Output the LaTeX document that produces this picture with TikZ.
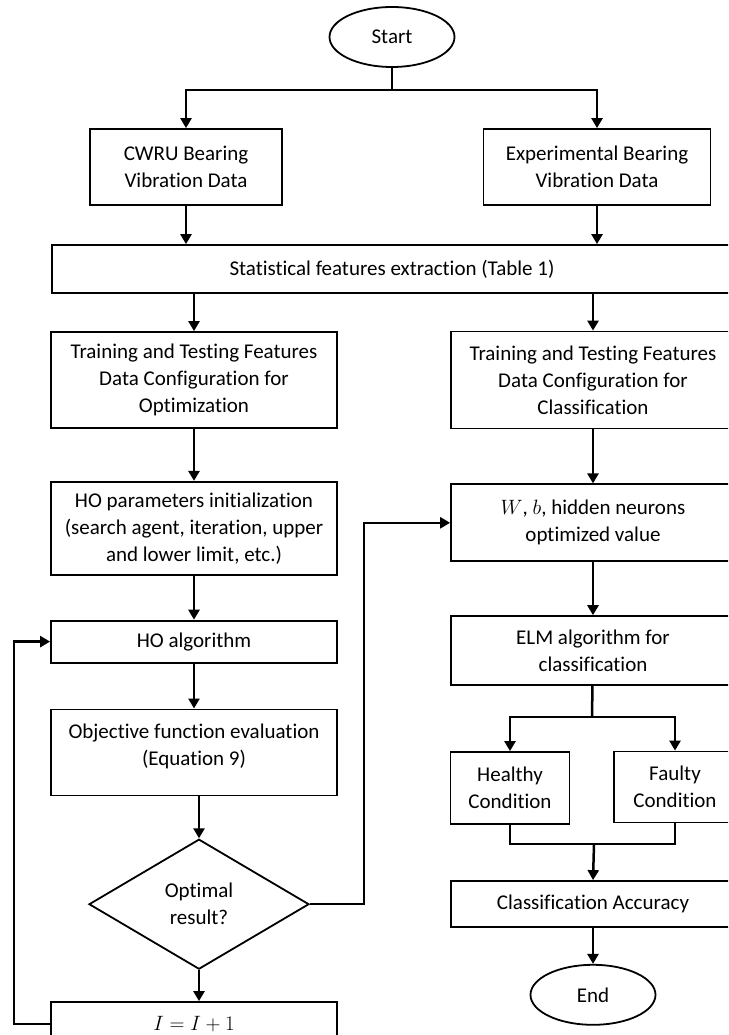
\documentclass[tikz,border=0pt]{standalone}
\usepackage{amsmath}
\usepackage{fontspec}
\setmainfont{Carlito}[Ligatures=NoCommon]
\usetikzlibrary{positioning,shapes.geometric,arrows.meta}

\begin{document}
\begin{tikzpicture}[x=1pt,y=-1pt,
        every node/.style={font=\fontsize{21}{27}\selectfont, align=center},
        box/.style={draw, line width=1.8pt, rectangle, inner sep=2pt},
        term/.style={draw, line width=1.8pt, ellipse, minimum width=125pt, minimum height=60pt},
        decision/.style={draw, line width=1.8pt, diamond, aspect=1.7, inner sep=0pt,
            minimum width=220pt, minimum height=130pt},
        flow/.style={line width=2.5pt, -{Triangle[length=10pt,width=11pt]}},
        link/.style={line width=2.5pt}]
        \useasboundingbox (0,0) rectangle (728,1035);
        \clip (0,0) rectangle (728,1035);
        \node[term] at (392,37) (start) {Start};
        \node[box, minimum width=192pt, minimum height=76pt] at (186,167) (cwru) {CWRU Bearing\\Vibration Data};
        \node[box, minimum width=227pt, minimum height=76pt] at (597,167) (expt) {Experimental Bearing\\Vibration Data};
        \node[box, minimum width=680pt, minimum height=48pt] at (392,269) (stat) {Statistical features extraction (Table 1)};
        \node[box, minimum width=286pt, minimum height=96pt] at (194,380) (trainopt) {Training and Testing Features\\Data Configuration for\\Optimization};
        \node[box, minimum width=286pt, minimum height=93pt, below=52pt of trainopt] (hoinit) {HO parameters initialization\\(search agent, iteration, upper\\and lower limit, etc.)};
        \node[box, minimum width=286pt, minimum height=42pt, below=44pt of hoinit] (hoalg) {HO algorithm};
        \node[box, minimum width=286pt, minimum height=86pt, below=45pt of hoalg] (objf) {Objective function evaluation\\(Equation 9)\\[-12pt]};
        \node[decision, below=42pt of objf, xshift=5pt] (optim) {Optimal\\result?};
        \node[box, minimum width=286pt, minimum height=44pt, below=31pt of optim, xshift=-5pt] (iter) {$I = I + 1$};
        \node[box, minimum width=284pt, minimum height=97pt] at (593,380) (traincls) {Training and Testing Features\\Data Configuration for\\Classification};
        \node[box, minimum width=284pt, minimum height=77pt, below=54pt of traincls] (wb) {$W$, $b$, hidden neurons\\optimized value};
        \node[box, minimum width=284pt, minimum height=69pt, below=53pt of wb] (elm) {ELM algorithm for\\classification};
        \node[box, minimum width=119pt, minimum height=72pt] at (510,788) (healthy) {Healthy\\Condition};
        \node[box, minimum width=122pt, minimum height=71pt] at (675,787) (faulty) {Faulty\\Condition};
        \node[box, minimum width=284pt, minimum height=46pt] at (593,904) (acc) {Classification Accuracy};
        \node[term, below=36pt of acc] (endn) {End};
        \coordinate (fork) at (392,90);
        \coordinate (split) at (592,717);
        \coordinate (merge) at (594,844);
        \coordinate (back) at (14,0);
        \coordinate (jump) at (364,0);
        \draw[link] (start) -- (fork);
        \draw[flow] (fork) -| (cwru.north);
        \draw[flow] (fork) -| (expt.north);
        \draw[flow] (cwru) -- (cwru |- stat.north);
        \draw[flow] (expt) -- (expt |- stat.north);
        \draw[flow] (stat.south -| trainopt) -- (trainopt);
        \draw[flow] (stat.south -| traincls) -- (traincls);
        \draw[flow] (trainopt) -- (hoinit);
        \draw[flow] (hoinit) -- (hoalg);
        \draw[flow] (hoalg) -- (objf);
        \draw[flow] (objf.south -| optim) -- (optim.north);
        \draw[flow] (optim.south) -- (optim.south |- iter.north);
        \draw[flow] (iter.west) -- (iter.west -| back) |- (hoalg.west);
        \draw[flow] (optim.east) -- (optim.east -| jump) |- (wb.west);
        \draw[flow] (traincls) -- (wb);
        \draw[flow] (wb) -- (elm);
        \draw[link] (elm) -- (split);
        \draw[flow] (split) -| (healthy.north);
        \draw[flow] (split) -| (faulty.north);
        \draw[link] (healthy.south) |- (merge) -| (faulty.south);
        \draw[flow] (merge) -- (acc.north);
        \draw[flow] (acc) -- (endn);
    \end{tikzpicture}
\end{document}
